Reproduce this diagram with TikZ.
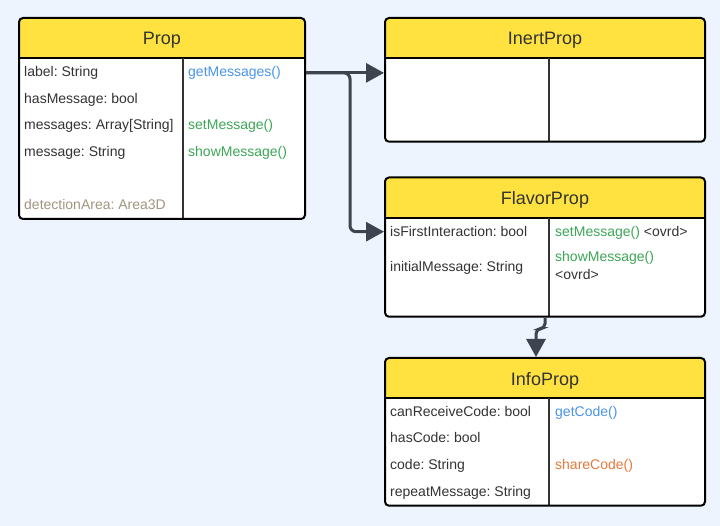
\documentclass[tikz,border=0pt]{standalone}
\usepackage{fontspec}
\setmainfont{Liberation Sans}
\usetikzlibrary{arrows.meta,fit}
\definecolor{bg}{HTML}{EEF4FD}
\definecolor{hdr}{HTML}{FFE240}
\definecolor{txt}{HTML}{333333}
\definecolor{mblue}{HTML}{4A94E8}
\definecolor{mgreen}{HTML}{3CA656}
\definecolor{morange}{HTML}{E27A3C}
\definecolor{mgray}{HTML}{A09680}
\definecolor{arr}{HTML}{3D4450}
\frenchspacing
\tikzset{
  frame/.style={draw=black, line width=2pt, rounded corners=4pt, inner sep=0pt},
  sep/.style={draw=black, line width=2pt},
  divl/.style={draw=txt, line width=1.6pt},
  ctitle/.style={font=\fontsize{18}{20}\selectfont, text=txt, inner sep=0pt},
  attr/.style={font=\fontsize{14}{16}\selectfont, text=txt, inner sep=0pt, anchor=base west},
  conn/.style={draw=arr, line width=3pt, -{Triangle[length=18pt,width=19pt]}},
}
\newcommand\mkclass[8]{%
  \begin{scope}
    \clip[rounded corners=4pt] (#2,#3) rectangle (#4,#5);
    \fill[white] (#2,#3) rectangle (#4,#5);
    \fill[hdr] (#2,#3) rectangle (#4,#6);
  \end{scope}
  \draw[sep] (#2,#6) -- (#4,#6);
  \draw[divl] (#7,#6) -- (#7,#5);
  \node[frame, fit={(#2,#3) (#4,#5)}] (#1) {};
  \node[ctitle, anchor=base] (#1-t) at ({(#2+#4)/2},{#6-12.7}) {#8};
}
\begin{document}
\begin{tikzpicture}[x=1pt,y=-1pt]
\useasboundingbox[fill=bg] (0,0) rectangle (720,526);

\mkclass{prop}{19}{18}{305}{219}{57.7}{183}{Prop}
\mkclass{inert}{385}{18}{705}{141.7}{57.7}{549}{InertProp}
\mkclass{flavor}{385}{177.5}{705}{316.7}{217.7}{549}{FlavorProp}
\mkclass{info}{385}{358}{705}{505.7}{397.7}{549}{InfoProp}

% Prop
\node[attr] (p1) at (24,76.5) {label: String};
\node[attr] (p2) at (24,103.2) {hasMessage: bool};
\node[attr] (p3) at (24,130) {messages: Array[String]};
\node[attr] (p4) at (24,156.7) {message: String};
\node[attr, text=mgray] (p5) at (24,210) {detectionArea: Area3D};
\node[attr, text=mblue] (getm) at (188,76.5) {getMessages()};
\node[attr, text=mgreen] (setm) at (188,130) {setMessage()};
\node[attr, text=mgreen] (showm) at (188,156.7) {showMessage()};

% FlavorProp
\node[attr] (isf) at (390,236.7) {isFirstInteraction: bool};
\node[attr] (initm) at (390,271.7) {initialMessage: String};
\node[attr] (fset) at (555,236.7) {\textcolor{mgreen}{setMessage()} {<}ovrd{>}};
\node[attr, text=mgreen] (fshow) at (555,261.7) {showMessage()};
\node[attr] (fovrd) at (555,280) {{<}ovrd{>}};

% InfoProp
\node[attr] (i1) at (390,416) {canReceiveCode: bool};
\node[attr] (i2) at (390,442.7) {hasCode: bool};
\node[attr] (i3) at (390,469.5) {code: String};
\node[attr] (i4) at (390,496.7) {repeatMessage: String};
\node[attr, text=mblue] (getc) at (555,416) {getCode()};
\node[attr, text=morange] (sharec) at (555,469.5) {shareCode()};

% connectors
\draw[conn] (prop.east |- getm.center) -- (inert.west |- getm.center);
\draw[conn, rounded corners=6pt] (prop.east |- getm.center) -- ++(44,0) |- (flavor.west |- isf.center);
\draw[conn, rounded corners=5pt] (flavor.south) -- ++(0,11) -| ([xshift=-9pt]info.north);
\end{tikzpicture}
\end{document}
